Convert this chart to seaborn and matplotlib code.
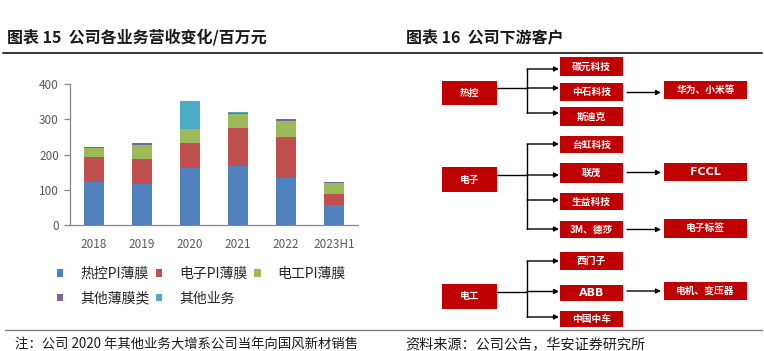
import matplotlib
matplotlib.use("Agg")
import matplotlib.pyplot as plt
import matplotlib.patches as mpatches
import numpy as np
import pandas as pd
import seaborn as sns

sns.set_theme(style="white")
plt.rcParams['font.family'] = ['Noto Sans CJK SC', 'DejaVu Sans']

# 数据（百万元）
years = ['2018', '2019', '2020', '2021', '2022', '2023H1']
thermal_pi = [121, 115, 162, 166, 134, 56]
electronic_pi = [73, 73, 72, 110, 117, 33]
electrical_pi = [24, 40, 37, 39, 43, 29]
other_film = [3, 4, 2, 4, 7, 3]
other_biz = [0, 1, 78, 1, 1, 1]

series_names = ['热控PI薄膜', '电子PI薄膜', '电工PI薄膜', '其他薄膜类', '其他业务']
series_colors = ['#4F81BD', '#C0504D', '#9BBB59', '#8064A2', '#4BACC6']

# 下游客户图
parents = ['热控', '电子', '电工']
children = [['碳元科技', '中石科技', '斯迪克'],
            ['台虹科技', '联茂', '生益科技', '3M、德莎'],
            ['西门子', 'ABB', '中国中车']]
end_users = {'中石科技': '华为、小米等', '联茂': 'FCCL',
             '3M、德莎': '电子标签', 'ABB': '电机、变压器'}

df = pd.DataFrame({'year': years, '热控PI薄膜': thermal_pi, '电子PI薄膜': electronic_pi,
                   '电工PI薄膜': electrical_pi, '其他薄膜类': other_film, '其他业务': other_biz})
cum = df[series_names].cumsum(axis=1)

fig = plt.figure(figsize=(7.64, 3.51), dpi=100)
W, H = 764, 351

# ---- 左图：堆叠柱状图 ----
ax = fig.add_axes([70 / W, 1 - 225 / H, 288 / W, 141 / H])
for name, color in reversed(list(zip(series_names, series_colors))):
    sns.barplot(x=df['year'], y=cum[name], color=color, width=0.4, saturation=1,
                errorbar=None, linewidth=0, ax=ax)
ax.set_ylim(0, 400)
ax.set_xlim(-0.5, 5.5)
ax.set_yticks([0, 100, 200, 300, 400])
ax.set_xlabel('')
ax.set_ylabel('')
for s in ['top', 'right']:
    ax.spines[s].set_visible(False)
for s in ['left', 'bottom']:
    ax.spines[s].set_color('#868686')
    ax.spines[s].set_linewidth(0.9)
ax.set_xticks(np.arange(-0.5, 6, 1), minor=True)
ax.tick_params(axis='x', which='major', length=0, pad=9, labelsize=8.5, labelcolor='#595959')
ax.tick_params(axis='x', which='minor', length=4, width=0.9, color='#868686', direction='out')
ax.tick_params(axis='y', length=4, width=0.9, color='#868686', direction='out', left=True,
               pad=4, labelsize=8.5, labelcolor='#595959')

order = [0, 3, 1, 4, 2]
handles = [mpatches.Patch(facecolor=series_colors[i], edgecolor='none') for i in order]
labels = [series_names[i] for i in order]
ax.legend(handles, labels, ncol=3, loc='upper left', bbox_to_anchor=(57 / W, 1 - 267 / H),
          bbox_transform=fig.transFigure, frameon=False, fontsize=10, handlelength=0.45,
          handleheight=0.45, handletextpad=1.2, columnspacing=0.5, labelspacing=0.75,
          borderpad=0, borderaxespad=0)

# ---- 覆盖层：标题、线条、注释、流程图 ----
ov = fig.add_axes([0, 0, 1, 1], zorder=-1)
ov.set_xlim(0, W)
ov.set_ylim(H, 0)
ov.axis('off')

ov.text(7, 37, '图表 15  公司各业务营收变化/百万元', fontsize=11.5, fontweight='bold',
        va='center', ha='left', color='#1a1a1a')
ov.text(406, 37, '图表 16  公司下游客户', fontsize=11.5, fontweight='bold',
        va='center', ha='left', color='#1a1a1a')
ov.plot([3, 762], [53, 53], color='#262626', lw=1.3)
ov.plot([5, 762], [330, 330], color='#7f7f7f', lw=1.0)
ov.text(15, 345, '注：公司 2020 年其他业务大增系公司当年向国风新材销售', fontsize=9.6,
        va='center', ha='left', color='#1a1a1a')
ov.text(405, 345, '资料来源：公司公告，华安证券研究所', fontsize=10.2,
        va='center', ha='left', color='#1a1a1a')

red = '#C00000'
parent_box = {'热控': (81, 105), '电子': (167, 192), '电工': (284, 309)}
child_box = {'碳元科技': (57, 76), '中石科技': (83, 101), '斯迪克': (107, 126),
             '台虹科技': (136, 153), '联茂': (163, 183), '生益科技': (193, 210),
             '3M、德莎': (221, 238), '西门子': (252, 270), 'ABB': (285, 301),
             '中国中车': (311, 327)}
end_box = {'华为、小米等': (81, 99), 'FCCL': (163, 181), '电子标签': (219, 238),
           '电机、变压器': (282, 300)}
child_arrow_y = {'碳元科技': 69, '中石科技': 88, '斯迪克': 113, '台虹科技': 144,
                 '联茂': 175, '生益科技': 200, '3M、德莎': 229, '西门子': 261,
                 'ABB': 291.5, '中国中车': 317}
end_arrow_y = {'中石科技': 92.5, '联茂': 172.5, '3M、德莎': 229.5, 'ABB': 291}


def box(x0, x1, y0, y1, label):
    ov.add_patch(mpatches.Rectangle((x0, y0), x1 - x0, y1 - y0, facecolor=red,
                                    edgecolor='none'))
    latin = label.isascii()
    ov.text((x0 + x1) / 2, (y0 + y1) / 2, label, color='white', ha='center', va='center',
            fontsize=8 if latin else 7, fontweight='bold',
            family=['DejaVu Sans'] if latin else ['Noto Sans CJK SC', 'DejaVu Sans'])


def arrow(x0, x1, y):
    ov.annotate('', xy=(x1, y), xytext=(x0, y),
                arrowprops=dict(arrowstyle='-|>', color='black', lw=1.0,
                                mutation_scale=7, shrinkA=0, shrinkB=0))


bx = 527
for p, kids in zip(parents, children):
    y0, y1 = parent_box[p]
    box(442, 497, y0, y1, p)
    ys = [child_arrow_y[k] for k in kids]
    mid = child_arrow_y[kids[1]]
    ov.plot([497, bx], [mid, mid], color='black', lw=1.0)
    ov.plot([bx, bx], [min(ys), max(ys)], color='black', lw=1.0)
    for k in kids:
        arrow(bx, 559, child_arrow_y[k])
        c0, c1 = child_box[k]
        box(560, 623, c0, c1, k)
        if k in end_users:
            arrow(627, 661, end_arrow_y[k])
            e0, e1 = end_box[end_users[k]]
            box(664, 747, e0, e1, end_users[k])

fig.savefig('out.png', dpi=100)
